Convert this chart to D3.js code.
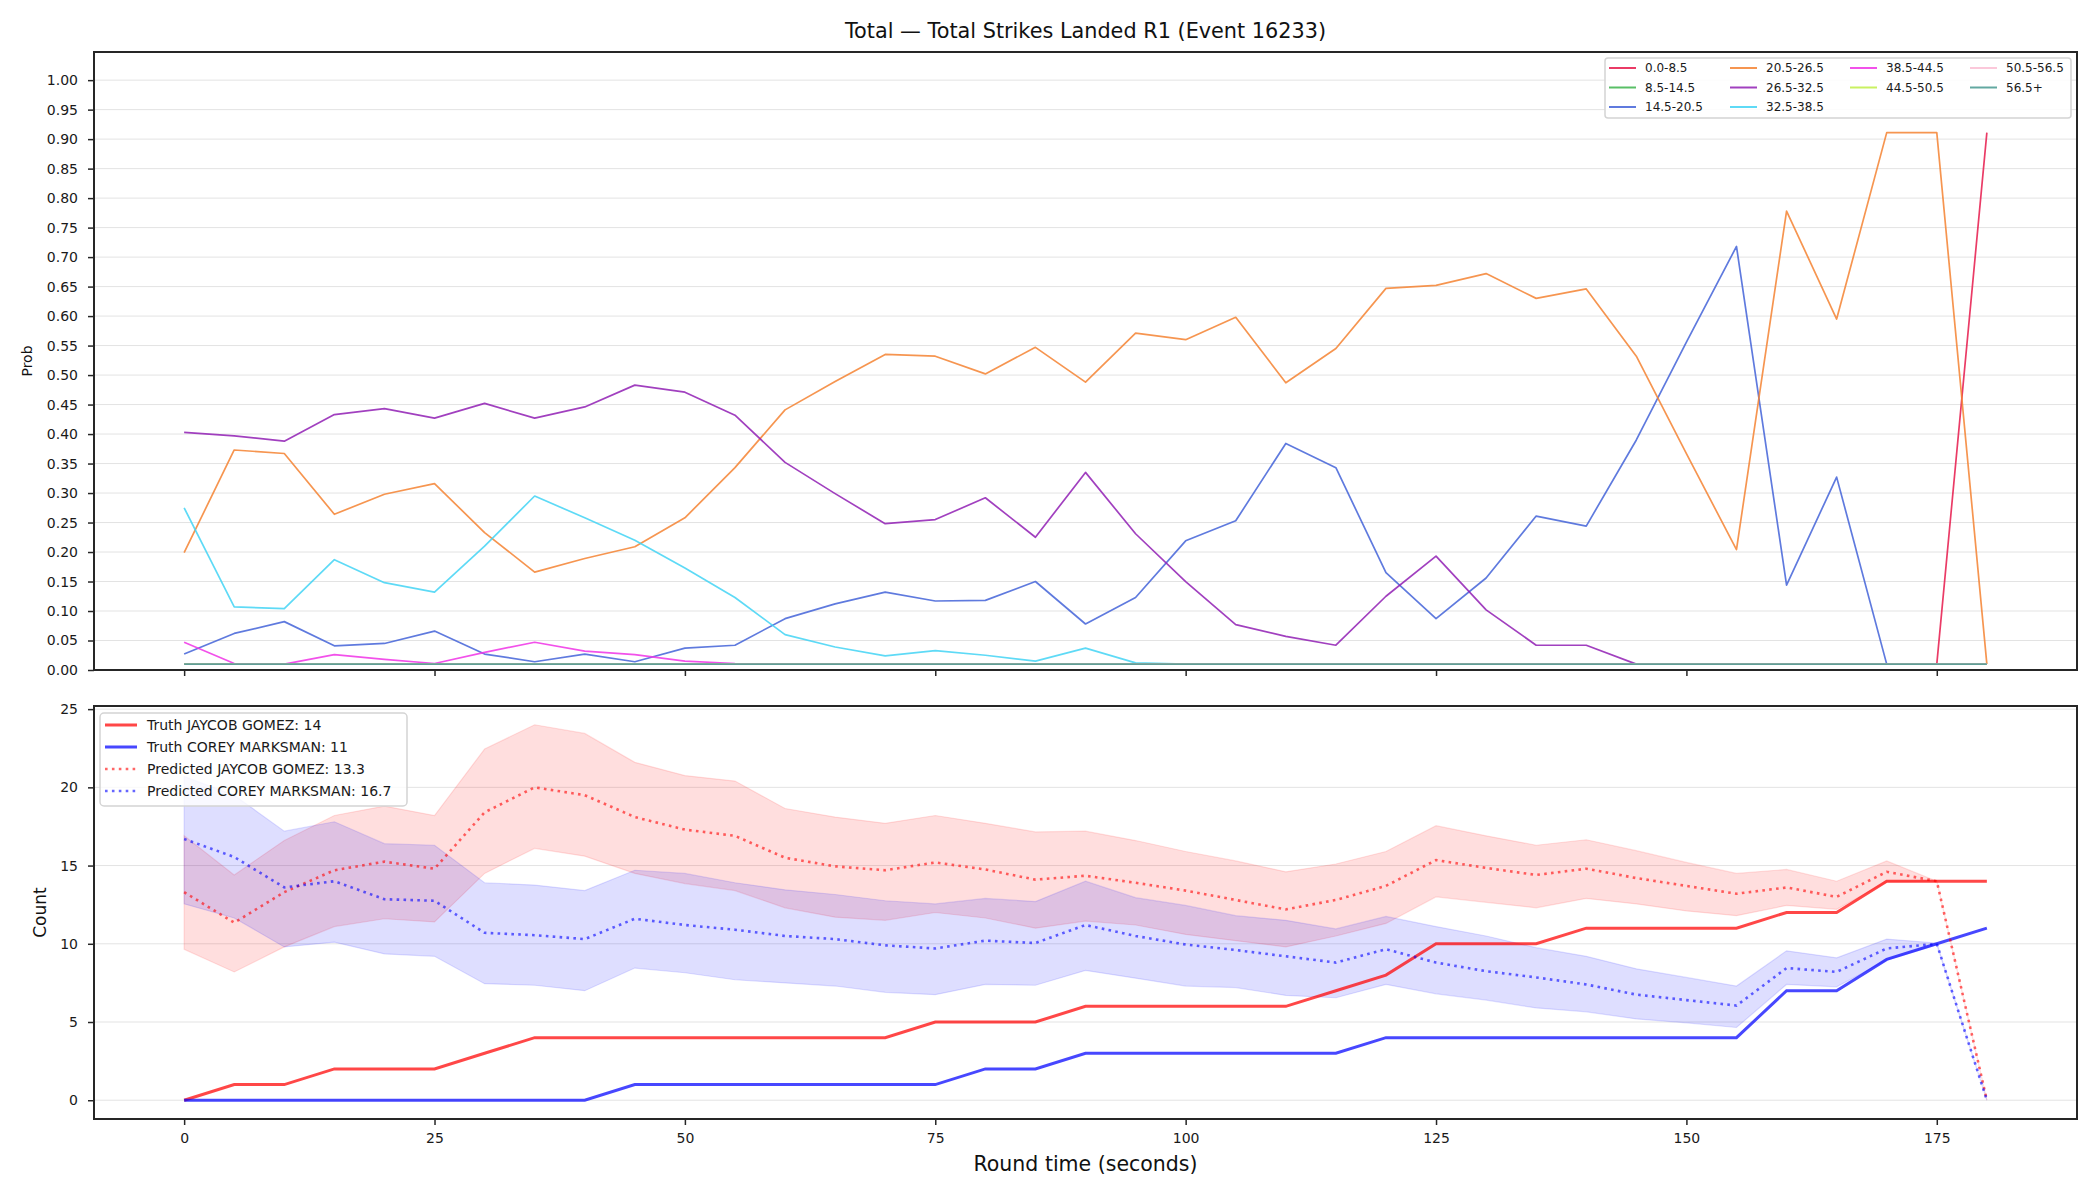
<!DOCTYPE html>
<html>
<head>
<meta charset="utf-8">
<script src="https://cdn.jsdelivr.net/npm/d3@7"></script>
<style>
  body { margin: 0; background: #fff; }
  svg { display: block; font-family: "DejaVu Sans", sans-serif; }
</style>
</head>
<body>
<svg id="chart" width="2100" height="1200"></svg>
<script>
// ---- data ----
var times = [0,5,10,15,20,25,30,35,40,45,50,55,60,65,70,75,80,85,90,95,100,105,110,115,120,125,130,135,140,145,150,155,160,165,170,175,180];

var bins = ["0.0-8.5","8.5-14.5","14.5-20.5","20.5-26.5","26.5-32.5","32.5-38.5","38.5-44.5","44.5-50.5","50.5-56.5","56.5+"];

var prob_0_8 = [0.01,0.01,0.01,0.01,0.01,0.01,0.01,0.01,0.01,0.01,0.01,0.01,0.01,0.01,0.01,0.01,0.01,0.01,0.01,0.01,0.01,0.01,0.01,0.01,0.01,0.01,0.01,0.01,0.01,0.01,0.01,0.01,0.01,0.01,0.01,0.01,0.911];
var prob_8_14 = [0.01,0.01,0.01,0.01,0.01,0.01,0.01,0.01,0.01,0.01,0.01,0.01,0.01,0.01,0.01,0.01,0.01,0.01,0.01,0.01,0.01,0.01,0.01,0.01,0.01,0.01,0.01,0.01,0.01,0.01,0.01,0.01,0.01,0.01,0.01,0.01,0.01];
var prob_14_20 = [0.027,0.062,0.082,0.041,0.045,0.066,0.027,0.014,0.027,0.014,0.037,0.042,0.087,0.112,0.132,0.117,0.118,0.150,0.078,0.123,0.219,0.253,0.384,0.343,0.165,0.087,0.156,0.261,0.244,0.390,0.556,0.718,0.144,0.327,0.01,0.01,0.01];
var prob_20_26 = [0.199,0.373,0.367,0.264,0.298,0.316,0.233,0.166,0.189,0.209,0.258,0.343,0.441,0.489,0.535,0.532,0.502,0.547,0.488,0.571,0.560,0.598,0.487,0.545,0.647,0.652,0.672,0.630,0.646,0.532,0.367,0.204,0.778,0.595,0.911,0.911,0.01];
var prob_26_32 = [0.403,0.397,0.388,0.433,0.443,0.427,0.452,0.427,0.446,0.483,0.471,0.432,0.352,0.299,0.248,0.255,0.292,0.225,0.335,0.231,0.150,0.077,0.057,0.042,0.125,0.193,0.102,0.042,0.042,0.01,0.01,0.01,0.01,0.01,0.01,0.01,0.01];
var prob_32_38 = [0.275,0.107,0.104,0.187,0.148,0.132,0.210,0.295,0.258,0.220,0.173,0.123,0.060,0.039,0.024,0.033,0.025,0.015,0.037,0.012,0.01,0.01,0.01,0.01,0.01,0.01,0.01,0.01,0.01,0.01,0.01,0.01,0.01,0.01,0.01,0.01,0.01];
var prob_38_44 = [0.047,0.011,0.010,0.026,0.018,0.011,0.030,0.047,0.032,0.026,0.015,0.011,0.01,0.01,0.01,0.01,0.01,0.01,0.01,0.01,0.01,0.01,0.01,0.01,0.01,0.01,0.01,0.01,0.01,0.01,0.01,0.01,0.01,0.01,0.01,0.01,0.01];
var prob_44_50 = [0.01,0.01,0.01,0.01,0.01,0.01,0.01,0.01,0.01,0.01,0.01,0.01,0.01,0.01,0.01,0.01,0.01,0.01,0.01,0.01,0.01,0.01,0.01,0.01,0.01,0.01,0.01,0.01,0.01,0.01,0.01,0.01,0.01,0.01,0.01,0.01,0.01];
var prob_50_56 = [0.01,0.01,0.01,0.01,0.01,0.01,0.01,0.01,0.01,0.01,0.01,0.01,0.01,0.01,0.01,0.01,0.01,0.01,0.01,0.01,0.01,0.01,0.01,0.01,0.01,0.01,0.01,0.01,0.01,0.01,0.01,0.01,0.01,0.01,0.01,0.01,0.01];
var prob_56_up = [0.01,0.01,0.01,0.01,0.01,0.01,0.01,0.01,0.01,0.01,0.01,0.01,0.01,0.01,0.01,0.01,0.01,0.01,0.01,0.01,0.01,0.01,0.01,0.01,0.01,0.01,0.01,0.01,0.01,0.01,0.01,0.01,0.01,0.01,0.01,0.01,0.01];

var truthGomez = [0,1,1,2,2,2,3,4,4,4,4,4,4,4,4,5,5,5,6,6,6,6,6,7,8,10,10,10,11,11,11,11,12,12,14,14,14];
var truthMarksman = [0,0,0,0,0,0,0,0,0,1,1,1,1,1,1,1,2,2,3,3,3,3,3,3,4,4,4,4,4,4,4,4,7,7,9,10,11];

var predGomez = [13.3,11.35,13.3,14.7,15.25,14.8,18.4,20.0,19.5,18.1,17.3,16.9,15.5,14.95,14.7,15.2,14.75,14.1,14.35,13.9,13.4,12.8,12.2,12.8,13.7,15.35,14.85,14.4,14.8,14.2,13.7,13.2,13.6,13.0,14.6,14.0,0];
var gomezHi = [16.9,14.4,16.6,18.2,18.8,18.2,22.45,24.0,23.45,21.6,20.75,20.4,18.65,18.1,17.7,18.2,17.7,17.15,17.2,16.6,15.9,15.3,14.6,15.1,15.9,17.55,16.9,16.3,16.65,15.95,15.2,14.5,14.75,14.0,15.3,14.0,0];
var gomezLo = [9.65,8.2,9.8,11.1,11.6,11.4,14.5,16.1,15.6,14.5,13.85,13.4,12.3,11.7,11.5,12.0,11.65,11.0,11.45,11.2,10.6,10.2,9.8,10.5,11.3,13.0,12.65,12.3,12.9,12.55,12.1,11.8,12.45,12.2,13.95,14.0,0];

var predMarksman = [16.7,15.55,13.6,14.0,12.85,12.75,10.7,10.55,10.3,11.6,11.2,10.9,10.5,10.3,9.9,9.7,10.2,10.05,11.2,10.5,9.95,9.6,9.2,8.8,9.65,8.8,8.25,7.85,7.4,6.75,6.4,6.05,8.45,8.2,9.7,10.0,0];
var marksmanHi = [20.7,19.5,17.2,17.8,16.4,16.3,13.9,13.75,13.4,14.7,14.5,13.9,13.45,13.15,12.75,12.55,12.9,12.7,14.0,12.95,12.45,11.8,11.5,10.95,11.75,11.1,10.5,9.75,9.2,8.4,7.85,7.3,9.55,9.1,10.3,10.05,0];
var marksmanLo = [12.55,11.65,9.8,10.1,9.35,9.2,7.45,7.35,7.0,8.45,8.15,7.7,7.5,7.3,6.9,6.75,7.4,7.35,8.3,7.8,7.3,7.2,6.7,6.55,7.4,6.8,6.4,5.9,5.65,5.2,4.95,4.65,7.4,7.25,8.95,9.95,0];

var xTicks = [0,25,50,75,100,125,150,175];
var probTicks = [0,0.05,0.1,0.15,0.2,0.25,0.3,0.35,0.4,0.45,0.5,0.55,0.6,0.65,0.7,0.75,0.8,0.85,0.9,0.95,1.0];
var countTicks = [0,5,10,15,20,25];

var countLabels = ["Truth JAYCOB GOMEZ: 14", "Truth COREY MARKSMAN: 11", "Predicted JAYCOB GOMEZ: 13.3", "Predicted COREY MARKSMAN: 16.7"];

// ---- styles ----
var binColors = ["#e6194b","#3cb44b","#4363d8","#f58231","#911eb4","#42d4f4","#f032e6","#bfef45","#fabed4","#469990"];
var probSeries = [prob_0_8, prob_8_14, prob_14_20, prob_20_26, prob_26_32, prob_32_38, prob_38_44, prob_44_50, prob_50_56, prob_56_up];

var left = 94, right = 2077;
var topT = 52, topB = 670;
var botT = 706, botB = 1119;
var ink = "#262626";

var svg = d3.select("#chart");

var scaleX = d3.scaleLinear().domain([-9, 189]).range([left, right]);
var scaleProb = d3.scaleLinear().domain([0, 1.0477]).range([topB, topT]);
var scaleCount = d3.scaleLinear().domain([-1.2, 25.2]).range([botB, botT]);

// grid
function grid(ticks, scale) {
  svg.append("g").selectAll("line")
    .data(ticks).enter().append("line")
    .attr("x1", left).attr("x2", right)
    .attr("y1", function(d) { return scale(d); })
    .attr("y2", function(d) { return scale(d); })
    .attr("stroke", "#e3e3e3").attr("stroke-width", 1);
}
grid(probTicks, scaleProb);
grid(countTicks, scaleCount);

// axes
function styleAxis(g) {
  g.select(".domain").remove();
  g.selectAll(".tick line").attr("stroke", ink).attr("stroke-width", 1.5);
  g.selectAll(".tick text").attr("fill", "#1a1a1a").style("font-size", "14px").style("font-family", "DejaVu Sans");
}

svg.append("g").attr("transform", "translate(" + left + ",0)")
  .call(d3.axisLeft(scaleProb).tickValues(probTicks).tickFormat(d3.format(".2f")).tickSize(6).tickPadding(10))
  .call(styleAxis);
svg.append("g").attr("transform", "translate(0," + topB + ")")
  .call(d3.axisBottom(scaleX).tickValues(xTicks).tickFormat("").tickSize(6))
  .call(styleAxis);
svg.append("g").attr("transform", "translate(" + left + ",0)")
  .call(d3.axisLeft(scaleCount).tickValues(countTicks).tickSize(6).tickPadding(10))
  .call(styleAxis);
svg.append("g").attr("transform", "translate(0," + botB + ")")
  .call(d3.axisBottom(scaleX).tickValues(xTicks).tickSize(6).tickPadding(8))
  .call(styleAxis);

// top panel lines
var probLine = d3.line()
  .x(function(d, i) { return scaleX(times[i]); })
  .y(function(d) { return scaleProb(d); });

probSeries.forEach(function(s, k) {
  svg.append("path")
    .attr("d", probLine(s))
    .attr("fill", "none")
    .attr("stroke", binColors[k])
    .attr("stroke-opacity", 0.85)
    .attr("stroke-width", 1.7)
    .attr("stroke-linejoin", "round");
});

// bottom panel
var countArea = function(lo, hi) {
  return d3.area()
    .x(function(d, i) { return scaleX(times[i]); })
    .y0(function(d, i) { return scaleCount(lo[i]); })
    .y1(function(d, i) { return scaleCount(hi[i]); })(times);
};
var countLine = d3.line()
  .x(function(d, i) { return scaleX(times[i]); })
  .y(function(d) { return scaleCount(d); });

svg.append("path").attr("d", countArea(gomezLo, gomezHi))
  .attr("fill", "#ff0000").attr("fill-opacity", 0.13)
  .attr("stroke", "#ff0000").attr("stroke-opacity", 0.12).attr("stroke-width", 1.2);
svg.append("path").attr("d", countArea(marksmanLo, marksmanHi))
  .attr("fill", "#0000ff").attr("fill-opacity", 0.13)
  .attr("stroke", "#0000ff").attr("stroke-opacity", 0.12).attr("stroke-width", 1.2);

svg.append("path").attr("d", countLine(truthGomez))
  .attr("fill", "none").attr("stroke", "#ff0000").attr("stroke-opacity", 0.72).attr("stroke-width", 3);
svg.append("path").attr("d", countLine(truthMarksman))
  .attr("fill", "none").attr("stroke", "#0000ff").attr("stroke-opacity", 0.72).attr("stroke-width", 3);
svg.append("path").attr("d", countLine(predGomez))
  .attr("fill", "none").attr("stroke", "#ff0000").attr("stroke-opacity", 0.6).attr("stroke-width", 2.6)
  .attr("stroke-dasharray", "2.6,4.3");
svg.append("path").attr("d", countLine(predMarksman))
  .attr("fill", "none").attr("stroke", "#0000ff").attr("stroke-opacity", 0.6).attr("stroke-width", 2.6)
  .attr("stroke-dasharray", "2.6,4.3");

// frames
[[topT, topB], [botT, botB]].forEach(function(p) {
  svg.append("rect")
    .attr("x", left).attr("y", p[0])
    .attr("width", right - left).attr("height", p[1] - p[0])
    .attr("fill", "none").attr("stroke", ink).attr("stroke-width", 2);
});

// top legend (4 columns, column-major)
var topLeg = svg.append("g");
topLeg.append("rect")
  .attr("x", 1605).attr("y", 58).attr("width", 466).attr("height", 60).attr("rx", 3)
  .attr("fill", "#fff").attr("fill-opacity", 0.85)
  .attr("stroke", "#d4d4d4").attr("stroke-width", 1.5);
var colStarts = [1609, 1730, 1850, 1970];
var colIndex = [0,0,0,1,1,1,2,2,3,3];
var rowIndex = [0,1,2,0,1,2,0,1,0,1];
bins.forEach(function(b, k) {
  var x0 = colStarts[colIndex[k]];
  var y0 = 68 + rowIndex[k] * 19.5;
  topLeg.append("line")
    .attr("x1", x0).attr("x2", x0 + 27).attr("y1", y0).attr("y2", y0)
    .attr("stroke", binColors[k]).attr("stroke-opacity", 0.85).attr("stroke-width", 2);
  topLeg.append("text")
    .attr("x", x0 + 36).attr("y", y0).attr("dy", "0.36em")
    .style("font-size", "12px").attr("fill", "#1a1a1a")
    .text(b);
});

// bottom legend
var botLeg = svg.append("g");
botLeg.append("rect")
  .attr("x", 100).attr("y", 713).attr("width", 307).attr("height", 93).attr("rx", 4)
  .attr("fill", "#fff").attr("fill-opacity", 0.8)
  .attr("stroke", "#d4d4d4").attr("stroke-width", 1.5);
var legColors = ["#ff0000", "#0000ff", "#ff0000", "#0000ff"];
countLabels.forEach(function(t, k) {
  var y0 = 725 + k * 22;
  var l = botLeg.append("line")
    .attr("x1", 105).attr("x2", 137).attr("y1", y0).attr("y2", y0)
    .attr("stroke", legColors[k]);
  if (k < 2) {
    l.attr("stroke-width", 3).attr("stroke-opacity", 0.72);
  } else {
    l.attr("stroke-width", 2.6).attr("stroke-opacity", 0.6).attr("stroke-dasharray", "2.6,4.3");
  }
  botLeg.append("text")
    .attr("x", 147).attr("y", y0).attr("dy", "0.36em")
    .style("font-size", "14px").attr("fill", "#1a1a1a")
    .text(t);
});

// titles and axis labels
svg.append("text")
  .attr("x", (left + right) / 2).attr("y", 38)
  .attr("text-anchor", "middle").style("font-size", "20.8px").attr("fill", "#111")
  .text("Total \u2014 Total Strikes Landed R1 (Event 16233)");

svg.append("text")
  .attr("transform", "translate(27," + (topT + topB) / 2 + ") rotate(-90)")
  .attr("text-anchor", "middle").attr("dy", "0.36em")
  .style("font-size", "14px").attr("fill", "#111")
  .text("Prob");

svg.append("text")
  .attr("transform", "translate(40," + (botT + botB) / 2 + ") rotate(-90)")
  .attr("text-anchor", "middle").attr("dy", "0.36em")
  .style("font-size", "17px").attr("fill", "#111")
  .text("Count");

svg.append("text")
  .attr("x", (left + right) / 2).attr("y", 1171)
  .attr("text-anchor", "middle").style("font-size", "20.5px").attr("fill", "#111")
  .text("Round time (seconds)");
</script>
</body>
</html>
